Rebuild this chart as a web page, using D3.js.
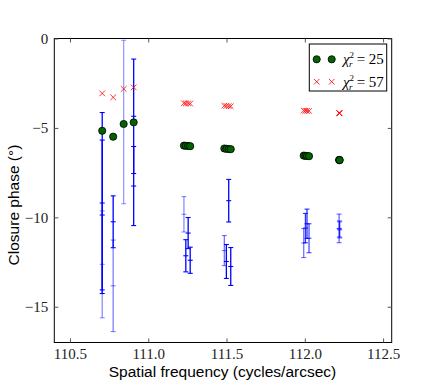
<!DOCTYPE html>
<html><head><meta charset="utf-8">
<script src="https://cdn.jsdelivr.net/npm/d3@7"></script>
<style>body{margin:0;background:#fff}svg{display:block}</style>
</head><body>
<script>
// ---- data ----
const xTicks = [110.5, 111.0, 111.5, 112.0, 112.5];
const yTicks = [0, -5, -10, -15];
const modelX = [110.706, 110.776, 110.843, 110.907, 111.228, 111.240, 111.255, 111.268, 111.486, 111.499, 111.514, 111.527, 111.993, 112.004, 112.014, 112.027, 112.219, 112.221, 112.223];
const chi25Y = [-5.16, -5.49, -4.78, -4.69, -5.99, -6.00, -6.01, -6.02, -6.15, -6.17, -6.18, -6.19, -6.55, -6.56, -6.57, -6.58, -6.79, -6.80, -6.80];
const chi57Y = [-3.07, -3.29, -2.82, -2.73, -3.62, -3.63, -3.63, -3.64, -3.76, -3.77, -3.78, -3.79, -4.03, -4.04, -4.05, -4.05, -4.17, -4.18, -4.18];
const dataX = [110.706, 110.706, 110.706, 110.776, 110.776, 110.843, 110.907, 110.907, 111.228, 111.240, 111.255, 111.268, 111.486, 111.499, 111.514, 111.527, 111.993, 112.004, 112.014, 112.027, 112.219, 112.221, 112.223];
const dataY = [-9.20, -9.87, -12.63, -10.25, -13.83, -4.67, -4.35, -8.25, -9.83, -12.15, -10.88, -12.40, -11.86, -12.47, -9.07, -12.75, -11.44, -10.60, -10.36, -11.17, -10.62, -10.65, -10.70];
const dataErr = [5.06, 4.19, 2.99, 1.45, 2.56, 4.57, 3.20, 2.21, 0.99, 0.90, 0.87, 0.73, 0.84, 0.95, 1.19, 1.06, 0.81, 0.82, 0.82, 0.81, 0.80, 0.45, 0.45];
const dataAlpha = [1, 1, 0.45, 1, 0.5, 0.4, 1, 1, 0.45, 1, 1, 1, 0.55, 1, 1, 1, 0.55, 0.8, 0.8, 0.7, 0.6, 0.6, 0.6];
const legendLabels = ["25", "57"];

const W = 436, H = 382;
const L = 54.3, R = 391.7, T = 38.5, B = 342.5;
const svg = d3.select("body").append("svg").attr("width", W).attr("height", H);
const x = d3.scaleLinear().domain([110.4, 112.555]).range([L, R]);
const y = d3.scaleLinear().domain([-17, 0]).range([B, T]);

// error bars
const bars = dataX.map((v, i) => ({x: v, y: dataY[i], e: dataErr[i], a: dataAlpha[i]}));
const eb = svg.append("g");
bars.forEach(d => {
  const g = eb.append("g").attr("stroke", "#0000ff").attr("stroke-opacity", d.a).attr("fill", "none");
  const cx = x(d.x);
  g.append("line").attr("x1", cx).attr("x2", cx).attr("y1", y(d.y + d.e)).attr("y2", y(d.y - d.e)).attr("stroke-width", 1.3);
  [d.y + d.e, d.y, d.y - d.e].forEach(v => {
    g.append("line").attr("x1", cx - 2.5).attr("x2", cx + 2.5).attr("y1", y(v)).attr("y2", y(v)).attr("stroke-width", 1.1);
  });
});

// chi 57 x markers
const xm = (g, cx, cy, s) => {
  g.append("path").attr("d", `M${cx - s},${cy - s}L${cx + s},${cy + s}M${cx - s},${cy + s}L${cx + s},${cy - s}`)
    .attr("stroke", "#ff0000").attr("stroke-width", 1).attr("fill", "none").attr("stroke-opacity", 0.8);
};
const gx = svg.append("g");
modelX.forEach((v, i) => xm(gx, x(v), y(chi57Y[i]), 2.8));

// chi 25 circles
svg.append("g").selectAll("circle").data(modelX).join("circle")
  .attr("cx", d => x(d)).attr("cy", (d, i) => y(chi25Y[i])).attr("r", 3.6)
  .attr("fill", "#006400").attr("stroke", "#000").attr("stroke-width", 0.8);

// frame
svg.append("rect").attr("x", L).attr("y", T).attr("width", R - L).attr("height", B - T)
  .attr("fill", "none").attr("stroke", "#000").attr("stroke-width", 1);

// axes (inward ticks)
const fmtX = d3.format(".1f");
const ax = d3.axisBottom(x).tickValues(xTicks).tickSize(-4).tickPadding(6).tickFormat(fmtX);
const axT = d3.axisTop(x).tickValues(xTicks).tickSize(-4).tickFormat("");
const ay = d3.axisLeft(y).tickValues(yTicks).tickSize(-4).tickPadding(6).tickFormat(d3.format("d"));
const ayR = d3.axisRight(y).tickValues(yTicks).tickSize(-4).tickFormat("");
function style(g) {
  g.select(".domain").remove();
  g.selectAll(".tick line").attr("stroke", "#555");
  g.selectAll(".tick text").attr("font-family", "'Liberation Serif', 'DejaVu Serif', serif").attr("font-size", 15).attr("fill", "#222");
}
svg.append("g").attr("transform", `translate(0,${B})`).call(ax).call(style);
svg.append("g").attr("transform", `translate(0,${T})`).call(axT).call(style);
svg.append("g").attr("transform", `translate(${L},0)`).call(ay).call(style);
svg.append("g").attr("transform", `translate(${R},0)`).call(ayR).call(style);

// axis labels
svg.append("text").attr("x", 222.5).attr("y", 376.5).attr("text-anchor", "middle")
  .attr("font-family", "'Liberation Sans', Arial, sans-serif").attr("font-size", 15.5).attr("fill", "#000")
  .text("Spatial frequency (cycles/arcsec)");
svg.append("text").attr("transform", "translate(19,205) rotate(-90)").attr("text-anchor", "middle")
  .attr("font-family", "'Liberation Sans', Arial, sans-serif").attr("font-size", 15.5).attr("fill", "#000")
  .text("Closure phase (°)");

// legend
const lg = svg.append("g");
lg.append("rect").attr("x", 309.3).attr("y", 44).attr("width", 77.4).attr("height", 47)
  .attr("fill", "#fff").attr("stroke", "#000").attr("stroke-width", 1);
[316.7, 331.7].forEach(px => {
  lg.append("circle").attr("cx", px).attr("cy", 59.3).attr("r", 3.6).attr("fill", "#006400").attr("stroke", "#000").attr("stroke-width", 0.8);
  xm(lg, px, 81.7, 2.8);
});
legendLabels.forEach((lab, i) => {
  const ty = i === 0 ? 64 : 86.5;
  const t = lg.append("text").attr("x", 343).attr("y", ty)
    .attr("font-family", "'Liberation Serif', 'DejaVu Serif', serif").attr("font-size", 15).attr("fill", "#000");
  t.append("tspan").attr("font-style", "italic").text("χ");
  t.append("tspan").attr("font-size", 9).attr("dy", -6).text("2");
  t.append("tspan").attr("font-size", 9).attr("font-style", "italic").attr("dx", -5).attr("dy", 9).text("r");
  t.append("tspan").attr("dy", -3).attr("dx", 4).text("= " + lab);
});
</script>
</body></html>
